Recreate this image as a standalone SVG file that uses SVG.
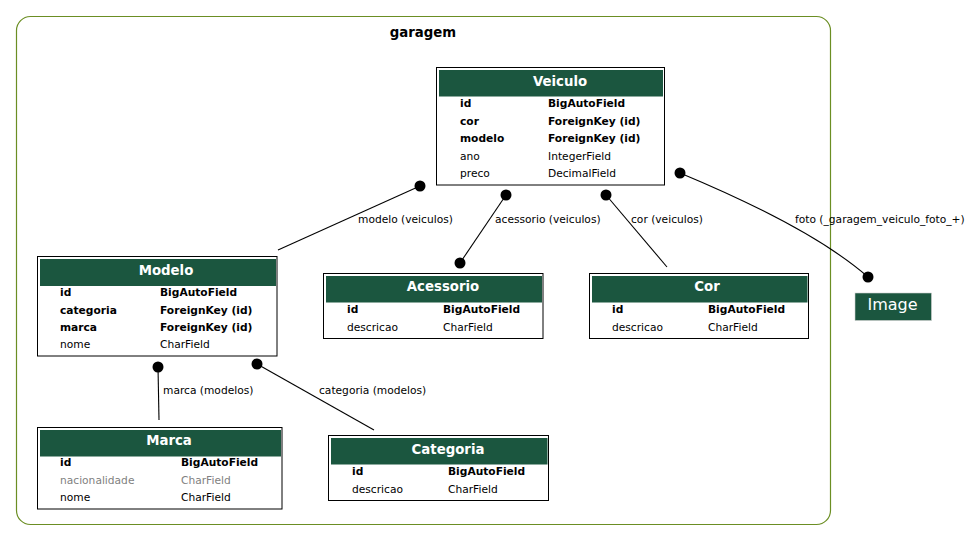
<svg xmlns="http://www.w3.org/2000/svg" width="973" height="541" viewBox="0 0 973 541">
<style>
text{font-family:"DejaVu Sans",sans-serif;fill:#000}
.box{fill:#fff;stroke:#000;stroke-width:1}
.hd{fill:#1b563f}
.ttl{font-size:13.3px;font-weight:bold;fill:#fff;text-anchor:middle}
.r{font-size:10.67px}
.b{font-weight:bold}
.g{fill:#7f7f7f}
.el{font-size:10.67px}
.ln{fill:none;stroke:#000;stroke-width:1.1}
.dot{fill:#000}
</style>
<rect x="16.5" y="16.5" width="814" height="508" rx="14" fill="#fff" stroke="#6b8e23" stroke-width="1.2"/>
<text x="423" y="37" style="font-size:13.3px;font-weight:bold" text-anchor="middle">garagem</text>

<g id="connectors">
<path class="ln" d="M278,250 L420,186"/><circle class="dot" cx="420" cy="186" r="5.5"/>
<text class="el" x="358" y="223">modelo (veiculos)</text>
<path class="ln" d="M506,195 L460,263"/><circle class="dot" cx="506" cy="195" r="5.5"/><circle class="dot" cx="460" cy="263" r="5.5"/>
<text class="el" x="495" y="223">acessorio (veiculos)</text>
<path class="ln" d="M606,195 L667,267"/><circle class="dot" cx="606" cy="195" r="5.5"/>
<text class="el" x="631" y="223">cor (veiculos)</text>
<path class="ln" d="M680,173 C740,198 820,235 868,277"/><circle class="dot" cx="680" cy="173" r="5.5"/><circle class="dot" cx="868" cy="277" r="5.5"/>
<text class="el" x="795" y="223">foto (_garagem_veiculo_foto_+)</text>
<path class="ln" d="M158,367 L159,420"/><circle class="dot" cx="158" cy="367" r="5.5"/>
<text class="el" x="163" y="394">marca (modelos)</text>
<path class="ln" d="M257,364 L374,430"/><circle class="dot" cx="257" cy="364" r="5.5"/>
<text class="el" x="319" y="394">categoria (modelos)</text>
</g>

<g id="Veiculo">
<rect class="box" x="436.5" y="67.5" width="228" height="117.5"/>
<rect class="hd" x="439" y="70" width="224" height="26.5"/>
<text class="ttl" x="560" y="85.5">Veiculo</text>
<text class="r b" x="460" y="107">id</text><text class="r b" x="548" y="107">BigAutoField</text>
<text class="r b" x="460" y="125">cor</text><text class="r b" x="548" y="125">ForeignKey (id)</text>
<text class="r b" x="460" y="142">modelo</text><text class="r b" x="548" y="142">ForeignKey (id)</text>
<text class="r" x="460" y="159.5">ano</text><text class="r" x="548" y="159.5">IntegerField</text>
<text class="r" x="460" y="177">preco</text><text class="r" x="548" y="177">DecimalField</text>
</g>

<g id="Modelo">
<rect class="box" x="37.5" y="256.5" width="239.5" height="99.5"/>
<rect class="hd" x="40" y="259" width="236" height="27"/>
<text class="ttl" x="166" y="274.5">Modelo</text>
<text class="r b" x="60" y="296">id</text><text class="r b" x="160" y="296">BigAutoField</text>
<text class="r b" x="60" y="313.5">categoria</text><text class="r b" x="160" y="313.5">ForeignKey (id)</text>
<text class="r b" x="60" y="331">marca</text><text class="r b" x="160" y="331">ForeignKey (id)</text>
<text class="r" x="60" y="348">nome</text><text class="r" x="160" y="348">CharField</text>
</g>

<g id="Marca">
<rect class="box" x="37.5" y="427.5" width="244.5" height="81.5"/>
<rect class="hd" x="40" y="430" width="241" height="26.5"/>
<text class="ttl" x="169" y="444.5">Marca</text>
<text class="r b" x="60" y="466">id</text><text class="r b" x="181" y="466">BigAutoField</text>
<text class="r g" x="60" y="483.5">nacionalidade</text><text class="r g" x="181" y="483.5">CharField</text>
<text class="r" x="60" y="501">nome</text><text class="r" x="181" y="501">CharField</text>
</g>

<g id="Acessorio">
<rect class="box" x="323.5" y="273.5" width="219.5" height="65"/>
<rect class="hd" x="326" y="276" width="216" height="26.5"/>
<text class="ttl" x="443" y="291">Acessorio</text>
<text class="r b" x="347" y="313">id</text><text class="r b" x="443" y="313">BigAutoField</text>
<text class="r" x="347" y="331">descricao</text><text class="r" x="443" y="331">CharField</text>
</g>

<g id="Cor">
<rect class="box" x="589.5" y="273.5" width="219" height="65"/>
<rect class="hd" x="592" y="276" width="215.5" height="26.5"/>
<text class="ttl" x="707" y="291">Cor</text>
<text class="r b" x="612" y="313">id</text><text class="r b" x="708" y="313">BigAutoField</text>
<text class="r" x="612" y="331">descricao</text><text class="r" x="708" y="331">CharField</text>
</g>

<g id="Categoria">
<rect class="box" x="328.5" y="435.5" width="220" height="65"/>
<rect class="hd" x="331" y="438" width="216.5" height="26.5"/>
<text class="ttl" x="448" y="453.5">Categoria</text>
<text class="r b" x="352" y="475">id</text><text class="r b" x="448" y="475">BigAutoField</text>
<text class="r" x="352" y="493">descricao</text><text class="r" x="448" y="493">CharField</text>
</g>

<g id="Image">
<rect x="855" y="293" width="76.5" height="27.5" fill="#1b563f" stroke="#d0d0d0" stroke-width="0.6"/>
<text x="892.5" y="310" style="font-size:16px;fill:#fff" text-anchor="middle">Image</text>
</g>
</svg>
